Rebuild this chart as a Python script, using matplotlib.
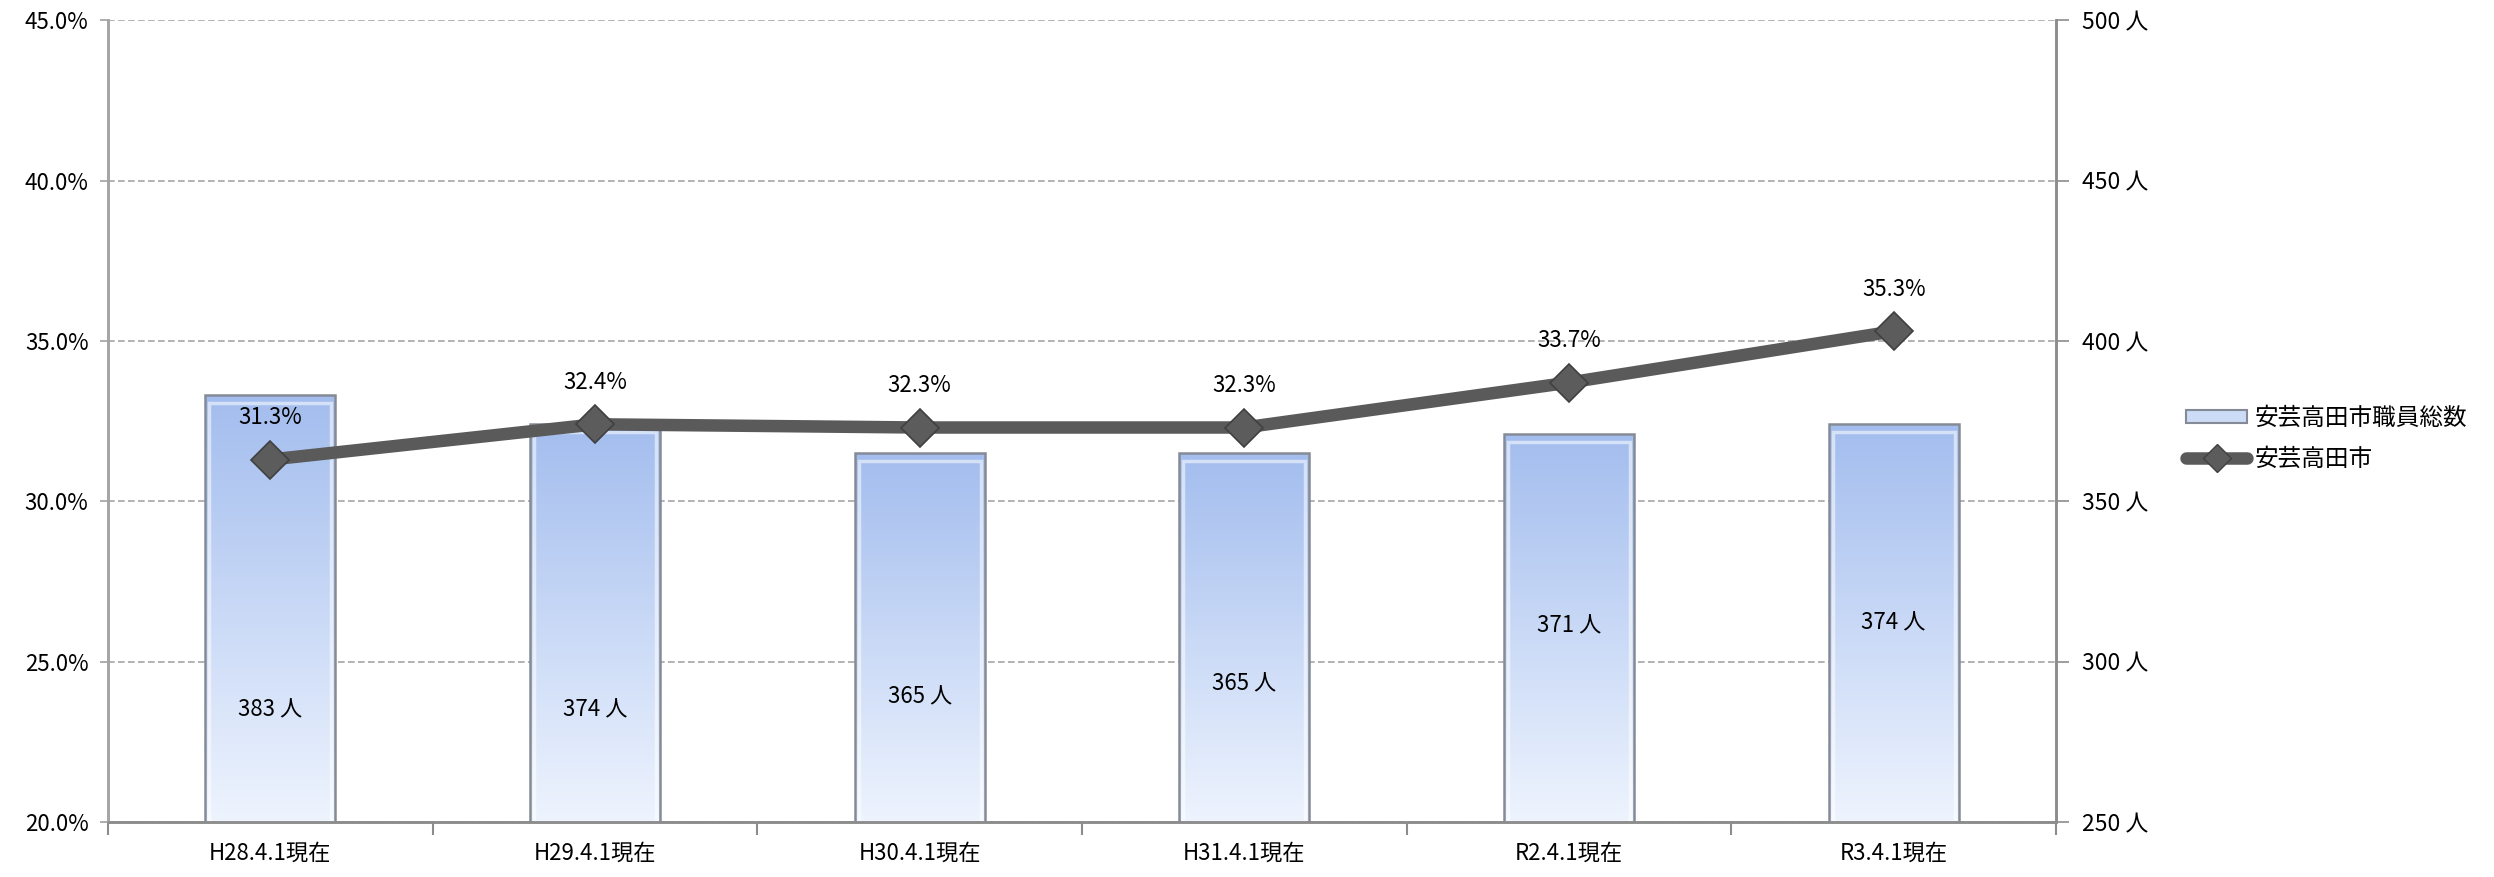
import matplotlib
matplotlib.use('agg')
import matplotlib.pyplot as plt
import numpy as np
from matplotlib.colors import LinearSegmentedColormap
from matplotlib.patches import Patch, Rectangle
from matplotlib.lines import Line2D

categories = ['H28.4.1現在', 'H29.4.1現在', 'H30.4.1現在', 'H31.4.1現在', 'R2.4.1現在', 'R3.4.1現在']
staff = [383, 374, 365, 365, 371, 374]          # 安芸高田市職員総数 (人)
ratio = [31.3, 32.4, 32.3, 32.3, 33.7, 35.3]    # 安芸高田市 (%)
staff_label_y = [285, 285, 289, 293, 311, 312]  # where the 人 labels sit inside the bars

pct_ticks = [20, 25, 30, 35, 40, 45]
ppl_ticks = [250, 300, 350, 400, 450, 500]

JP = ['Noto Sans CJK JP', 'DejaVu Sans']
NARROW = ['Liberation Sans Narrow', 'Noto Sans CJK JP', 'DejaVu Sans']
plt.rcParams['font.family'] = JP

fig = plt.figure(figsize=(24.94, 8.77), dpi=100)
ax = fig.add_axes([0.0433, 0.0627, 0.7811, 0.9143])
ax2 = ax.twinx()
ax.set_zorder(ax2.get_zorder() + 1)
ax.patch.set_visible(False)

x = np.arange(len(categories))

# bars on the right (人) axis with a vertical gradient
cmap = LinearSegmentedColormap.from_list('bar', ['#eef4fe', '#a3bdee'])
grad = np.linspace(0, 1, 256).reshape(-1, 1)
bars = ax2.bar(x, staff, width=0.4, color='none', edgecolor='#858b96', linewidth=1.8, zorder=3)
for b in bars:
    x0, w, h = b.get_x(), b.get_width(), b.get_height()
    im = ax2.imshow(grad, extent=(x0, x0 + w, ppl_ticks[0], h), origin='lower',
                    cmap=cmap, aspect='auto', zorder=2)
    im.set_clip_path(b)
    # soft bevel just inside the edge
    ax2.add_patch(Rectangle((x0 + 0.012, ppl_ticks[0]), w - 0.024, h - ppl_ticks[0] - 2.5,
                            fill=False, edgecolor='white', alpha=0.55, linewidth=2.5, zorder=2.5))
for xi, v, ly in zip(x, staff, staff_label_y):
    ax2.text(xi, ly, f'{v} 人', ha='center', va='center', fontsize=16,
             family=NARROW, zorder=5)

ax2.set_ylim(ppl_ticks[0], ppl_ticks[-1])
ax2.set_yticks(ppl_ticks)
ax2.set_yticklabels([f'{t} 人' for t in ppl_ticks], fontsize=16.5)
ax2.yaxis.grid(True, linestyle=(0, (4, 2)), color='#a6a6a6', linewidth=1.2, zorder=0)
ax2.set_axisbelow(True)

# line on the left (%) axis
ax.plot(x, ratio, color='#5a5a5a', linewidth=9, marker='D', markersize=19,
        markerfacecolor='#5c5c5c', markeredgecolor='#404040', markeredgewidth=1.2,
        solid_capstyle='round', zorder=4)
for xi, r in zip(x, ratio):
    ax.annotate(f'{r:.1f}%', (xi, r), xytext=(0, 30), textcoords='offset points',
                ha='center', va='center', fontsize=16, family=NARROW)

ax.set_xlim(-0.5, len(categories) - 0.5)
ax.set_ylim(pct_ticks[0], pct_ticks[-1])
ax.set_yticks(pct_ticks)
ax.set_yticklabels([f'{t:.1f}%' for t in pct_ticks], fontsize=16, family=NARROW)
ax.set_xticks(x)
ax.set_xticklabels(categories, fontsize=16, family=NARROW)
ax.set_xticks(np.arange(len(categories) + 1) - 0.5, minor=True)
ax.tick_params(axis='x', which='major', length=0, pad=14)
ax.tick_params(axis='x', which='minor', length=9, width=1.5, color='#8c8c8c')
ax.tick_params(axis='y', length=6, width=1.2, color='#a0a0a0', pad=8)
ax2.tick_params(axis='y', length=9, width=1.2, color='#8c8c8c', pad=10)

for a in (ax, ax2):
    a.spines['top'].set_visible(False)
    for s in ('left', 'right', 'bottom'):
        a.spines[s].set_color('#8c8c8c')
        a.spines[s].set_linewidth(1.8)
ax.spines['left'].set_color('#a6a6a6')

handles = [Patch(facecolor='#cddcf6', edgecolor='#858b96', linewidth=1.5),
           Line2D([], [], color='#5a5a5a', linewidth=9, marker='D', markersize=14,
                  markerfacecolor='#5c5c5c', markeredgecolor='#404040', solid_capstyle='round')]
fig.legend(handles, ['安芸高田市職員総数', '安芸高田市'], loc='center left',
           bbox_to_anchor=(0.868, 0.50), frameon=False, fontsize=17,
           handlelength=2.6, handleheight=0.5, handletextpad=0.3, labelspacing=0.75)

fig.savefig('out.png', dpi=100)
